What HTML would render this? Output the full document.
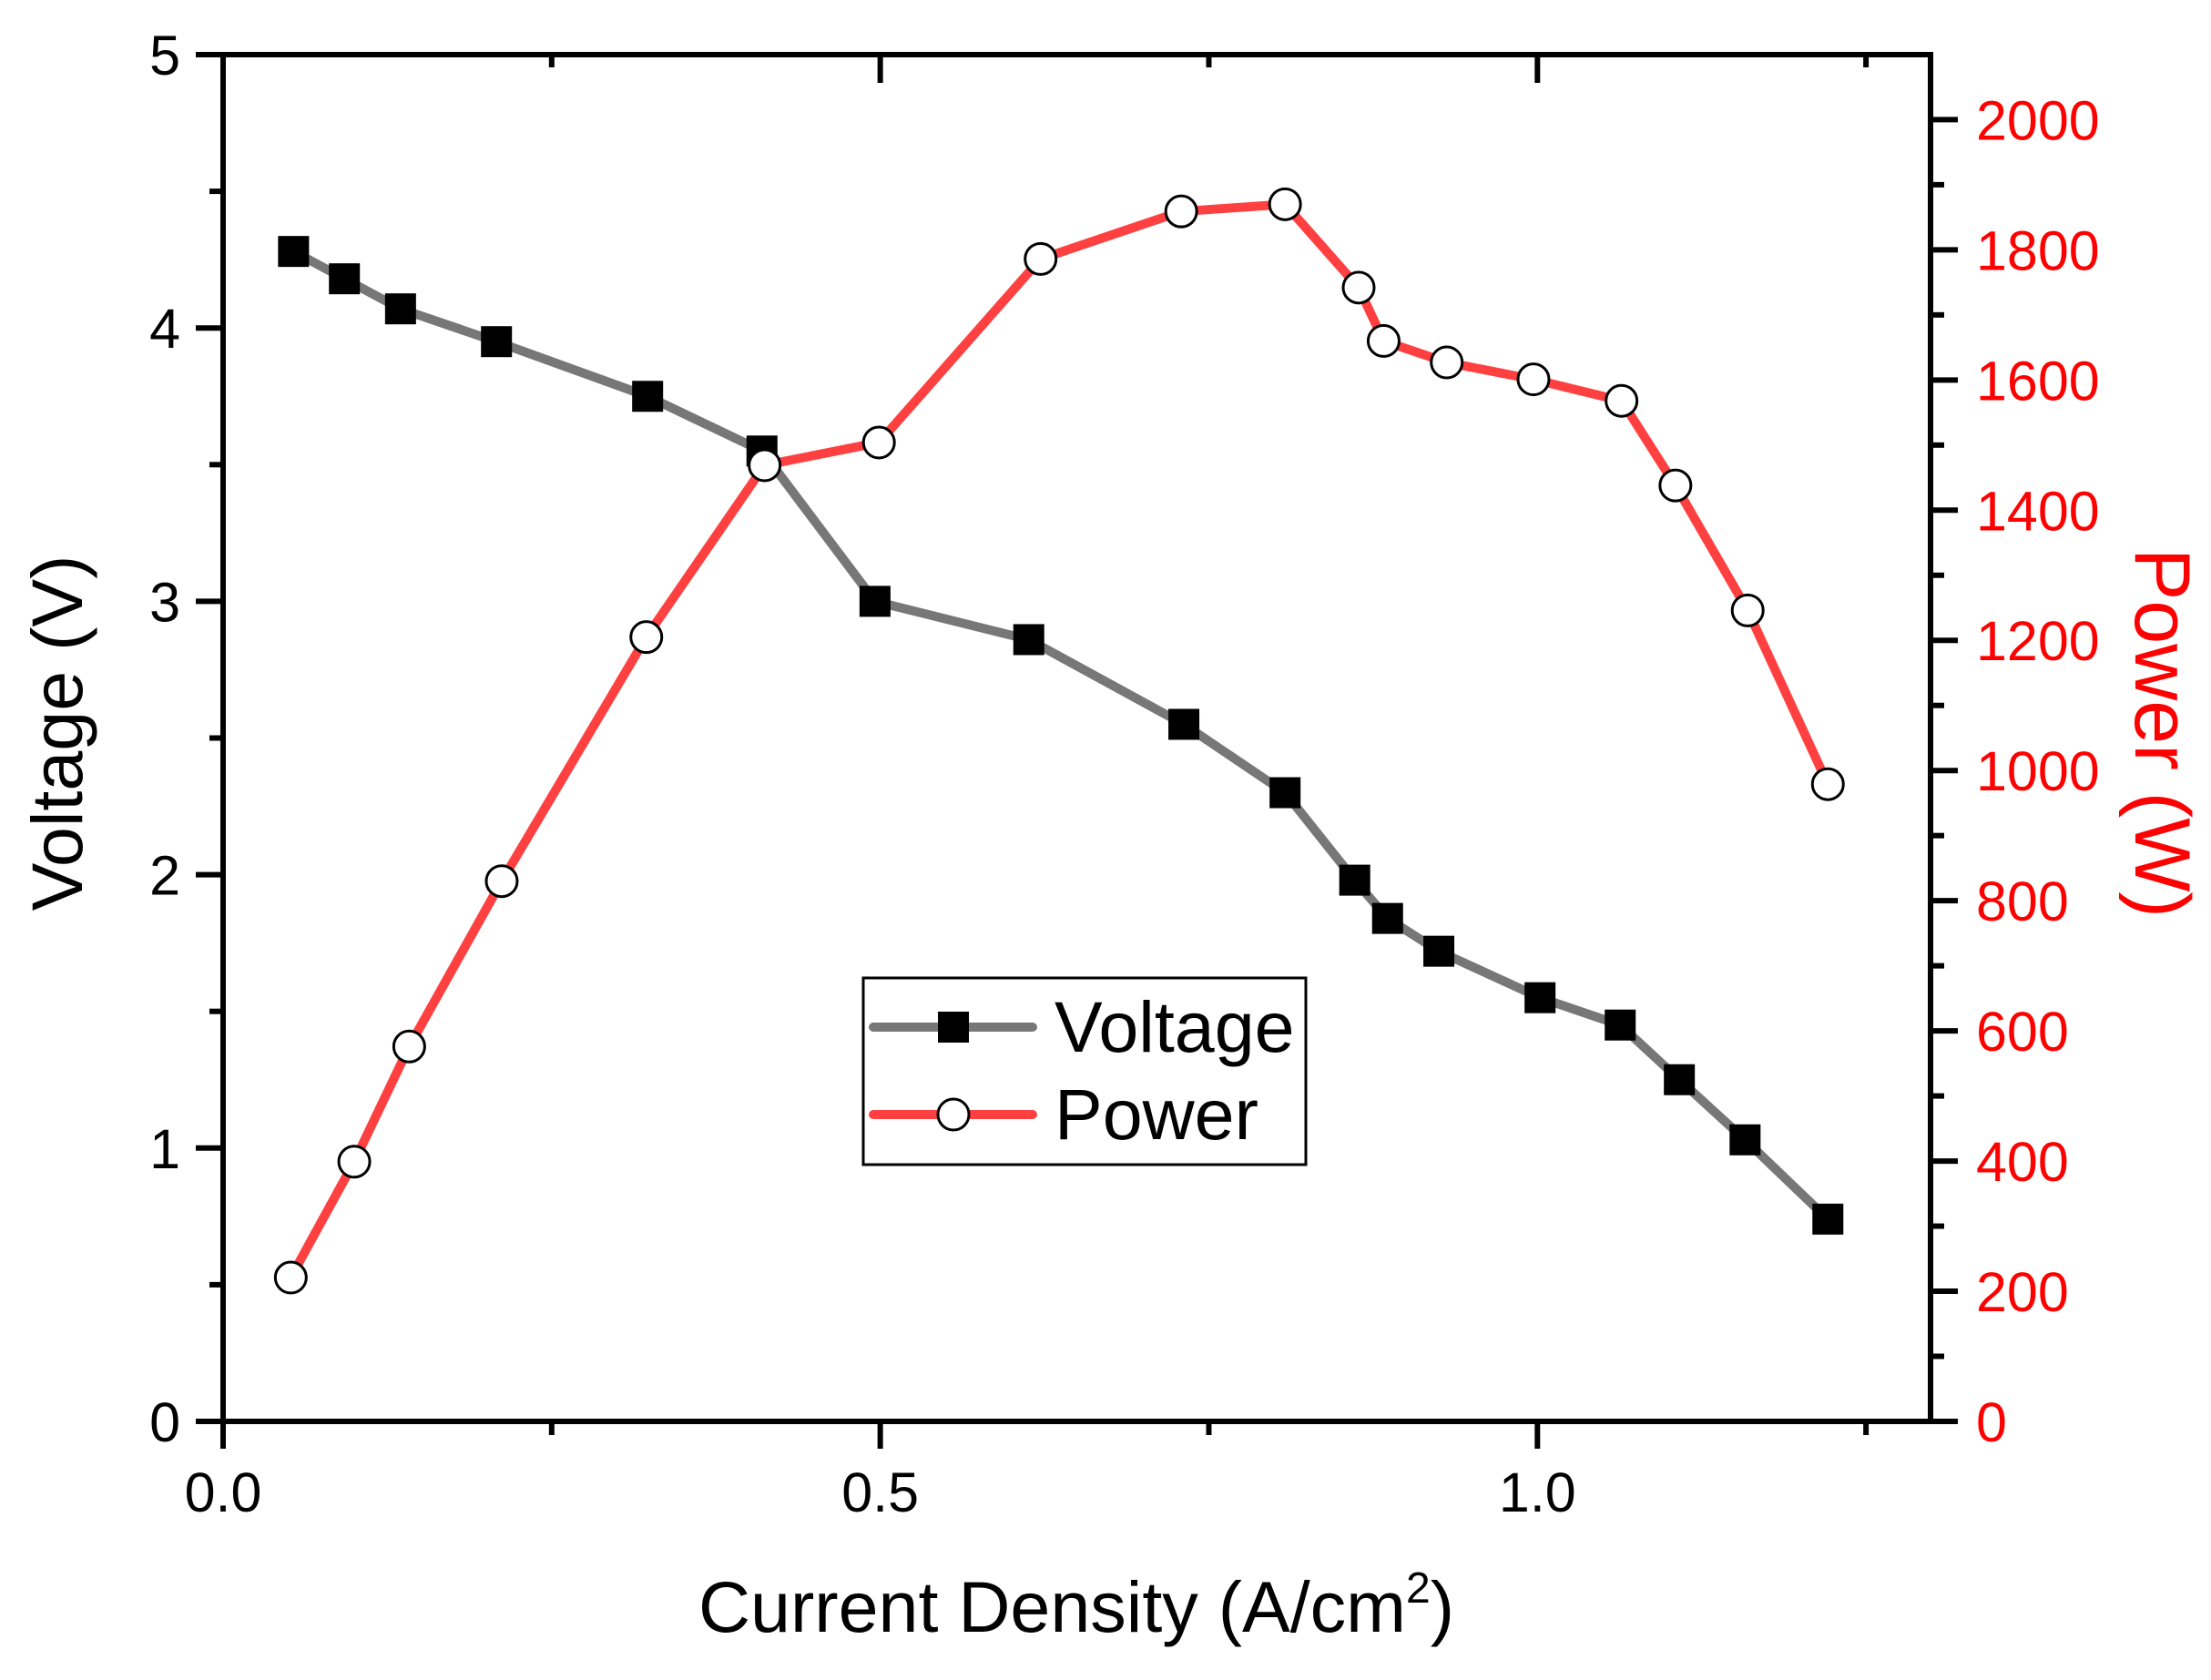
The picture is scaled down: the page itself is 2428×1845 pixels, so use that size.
<!DOCTYPE html>
<html><head><meta charset="utf-8"><style>
html,body{margin:0;padding:0;background:#fff;}
svg{display:block;font-family:"Liberation Sans",Arial,sans-serif;}
</style></head><body>
<svg id="chart" width="2428" height="1845" viewBox="0 0 2428 1845" xmlns="http://www.w3.org/2000/svg">
<g id="axes"></g>
<g id="series"></g>
<g id="legend">
  <rect x="948" y="1074" width="486" height="205" fill="#fff" stroke="#000" stroke-width="3"/>
  <line x1="959" y1="1128" x2="1134" y2="1128" stroke="#777" stroke-width="10" stroke-linecap="round"/>
  <rect x="1030" y="1111" width="34" height="34" fill="#000"/>
  <text x="1158" y="1155" font-size="79">Voltage</text>
  <line x1="959" y1="1224" x2="1134" y2="1224" stroke="#ff4040" stroke-width="10" stroke-linecap="round"/>
  <circle cx="1047" cy="1224" r="17" fill="#fff" stroke="#000" stroke-width="3"/>
  <text x="1158" y="1251" font-size="79">Power</text>
</g>
<text transform="translate(90,805) rotate(-90)" text-anchor="middle" font-size="79">Voltage (V)</text>
<text transform="translate(2345,805) rotate(90)" text-anchor="middle" font-size="86" fill="#ff0000">Power (W)</text>
<text x="1182" y="1792" text-anchor="middle" font-size="79">Current Density (A/cm<tspan font-size="48" dy="-32">2</tspan><tspan dy="32">)</tspan></text>
</svg>
<script>
const currentV = [0.0536,0.0923,0.135,0.208,0.323,0.410,0.496,0.613,0.731,0.808,0.861,0.886,0.925,1.002,1.063,1.108,1.158,1.221];
const voltage = [4.28,4.18,4.07,3.95,3.75,3.55,3.00,2.86,2.55,2.30,1.98,1.84,1.72,1.55,1.45,1.25,1.03,0.74];
const currentP = [0.0515,0.0998,0.1416,0.212,0.322,0.412,0.499,0.622,0.729,0.808,0.864,0.883,0.931,0.997,1.064,1.105,1.160,1.221];
const power = [221,399,576,830,1205,1469,1504,1786,1859,1870,1742,1660,1627,1601,1568,1438,1246,979];
const xTicks = ["0.0","0.5","1.0"];
const yTicks = ["0","1","2","3","4","5"];
const y2Ticks = ["0","200","400","600","800","1000","1200","1400","1600","1800","2000"];

const L=245,R=2120,T=60,B=1561;
const xs=v=>L+v*1443.3;
const yV=v=>B-v*300.2;
const yP=v=>B-v*0.7148;
const NS="http://www.w3.org/2000/svg";
function mk(tag,attrs,parent){const e=document.createElementNS(NS,tag);for(const k in attrs)e.setAttribute(k,attrs[k]);parent.appendChild(e);return e;}
const axes=document.getElementById('axes');
const series=document.getElementById('series');

let e;
e=mk('line',{x1:L,y1:B,x2:R,y2:B,stroke:'#000','stroke-width':6},axes);


e=mk('line',{x1:L,y1:T,x2:R,y2:T,stroke:'#000','stroke-width':6},axes);


e=mk('line',{x1:L,y1:T-3,x2:L,y2:B+3,stroke:'#000','stroke-width':6},axes);


e=mk('line',{x1:R,y1:T-3,x2:R,y2:B+3,stroke:'#000','stroke-width':6},axes);



for(let i=0;i<=5;i++){
  const v=i*0.25, x=xs(v), major=i%2===0;
  e=mk('line',{x1:x,y1:B,x2:x,y2:B+(major?30:15),stroke:'#000','stroke-width':6},axes);
  
  
  e=mk('line',{x1:x,y1:T,x2:x,y2:T+(major?31:14),stroke:'#000','stroke-width':6},axes);
  
  
}
xTicks.forEach((t,i)=>{
  e=mk('text',{x:xs(i*0.5),y:1660,'text-anchor':'middle','font-size':61},axes);
  e.textContent=t;
  
  
});
for(let i=0;i<=10;i++){
  const y=yV(i*0.5), major=i%2===0;
  e=mk('line',{x1:L-(major?30:15),y1:y,x2:L,y2:y,stroke:'#000','stroke-width':6},axes);
  
  
}
yTicks.forEach((t,i)=>{
  e=mk('text',{x:198,y:yV(i)+22,'text-anchor':'end','font-size':61},axes);
  e.textContent=t;
  
  
});
for(let i=0;i<=20;i++){
  const y=yP(i*100), major=i%2===0;
  e=mk('line',{x1:R,y1:y,x2:R+(major?30:15),y2:y,stroke:'#000','stroke-width':6},axes);
  
  
}
y2Ticks.forEach((t,i)=>{
  e=mk('text',{x:2170,y:yP(i*200)+22,'font-size':61,fill:'#ff0000'},axes);
  e.textContent=t;
  
  
});

e=mk('polyline',{points:currentV.map((c,i)=>xs(c)+','+yV(voltage[i])).join(' '),fill:'none',stroke:'#777','stroke-width':10,'stroke-linejoin':'round'},series);


e=mk('polyline',{points:currentP.map((c,i)=>xs(c)+','+yP(power[i])).join(' '),fill:'none',stroke:'#ff4040','stroke-width':10,'stroke-linejoin':'round'},series);


currentV.forEach((c,i)=>{
  e=mk('rect',{x:xs(c)-17,y:yV(voltage[i])-17,width:34,height:34,fill:'#000'},series);
  
  
});
currentP.forEach((c,i)=>{
  e=mk('circle',{cx:xs(c),cy:yP(power[i]),r:17,fill:'#fff',stroke:'#000','stroke-width':3},series);
  
  
});
</script>
</body></html>
